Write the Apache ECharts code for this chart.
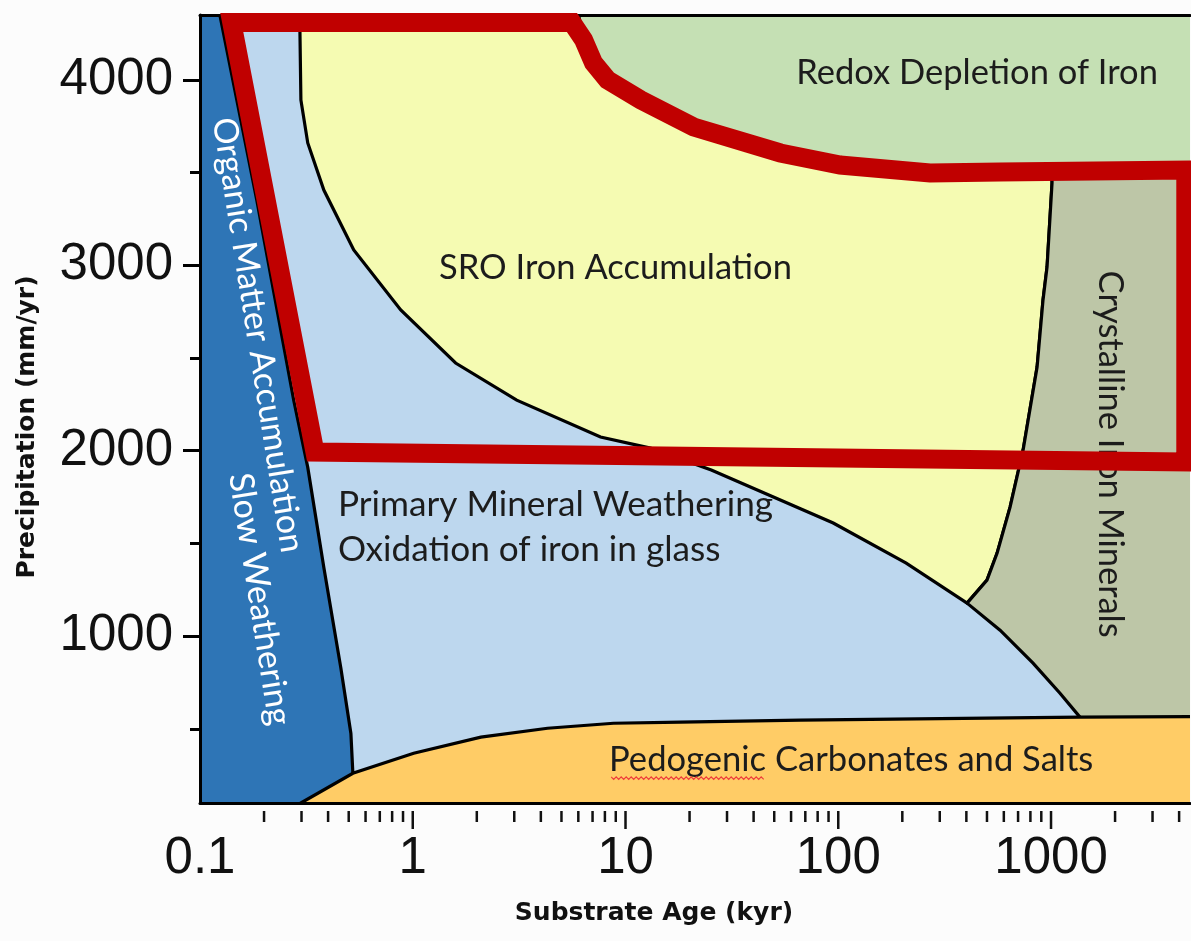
<!DOCTYPE html>
<html>
<head>
<meta charset="utf-8">
<script src="https://cdn.jsdelivr.net/npm/echarts@6/dist/echarts.min.js"></script>
<style>
  html, body { margin: 0; padding: 0; background: #fcfcfc; }
  #chart { width: 1191px; height: 941px; }
</style>
</head>
<body>
<div id="chart"></div>
<script>
// ---------- axis ranges & ticks ----------
const X_MIN = 0.1, X_MAX = 4500;
const Y_MIN = 100, Y_MAX = 4350;
const xTickLabels = ['0.1', '1', '10', '100', '1000'];
const xMajorTicks = [1, 10, 100, 1000];
const xMinorTicks = [0.2, 0.3, 0.4, 0.5, 0.6, 0.7, 0.8, 0.9,
                     2, 3, 4, 5, 6, 7, 8, 9,
                     20, 30, 40, 50, 60, 70, 80, 90,
                     200, 300, 400, 500, 600, 700, 800, 900,
                     2000, 3000, 4000];
const yTickLabels = [1000, 2000, 3000, 4000];
const yMinorTicks = [500, 1500, 2500, 3500];

// ---------- region boundaries (substrate age kyr, precipitation mm/yr) ----------
// organic matter strip / primary weathering boundary (top -> bottom)
const organicEdge = [[0.124, 4350], [0.185, 3350], [0.276, 2270], [0.321, 1910],
                     [0.382, 1370], [0.459, 830], [0.512, 475], [0.523, 260]];
// top of pedogenic carbonates (left -> right)
const carbonateTop = [[0.298, 100], [0.523, 260], [1.01, 368], [2.09, 455], [4.30, 503],
                      [8.78, 530], [18.1, 536], [66.3, 547], [1368, 563], [4500, 573]];
// SRO accumulation lower/left boundary (top -> junction)
const sroLowerEdge = [[0.295, 4350], [0.295, 4253], [0.298, 3892], [0.321, 3660], [0.382, 3406],
                      [0.528, 3083], [0.878, 2759], [1.59, 2473], [3.08, 2273], [7.63, 2074],
                      [13.1, 2014], [25.3, 1896], [94.7, 1610], [208.6, 1394], [403, 1178]];
// SRO / crystalline boundary (junction -> top)
const crystallineEdge = [[403, 1178], [500, 1302], [558, 1448], [642, 1696], [739, 2003],
                         [860, 2451], [917, 2813], [958, 2991], [1011, 3444]];
// primary weathering / crystalline boundary (junction -> carbonates)
const weatheringEdge = [[403, 1178], [576, 1032], [823, 854], [1102, 692], [1368, 563]];
// redox depletion lower boundary (left -> right)
const redoxEdge = [[6.02, 4350], [6.35, 4216], [7.07, 4092], [8.23, 4000], [11.8, 3892],
                   [20.9, 3746], [53.4, 3606], [102, 3541], [270, 3498], [576, 3503], [4500, 3525]];
// highlighted domain (red outline)
const redOutline = [[0.141, 4310], [5.6, 4310], [6.35, 4216], [7.07, 4092], [8.23, 4000],
                    [11.8, 3892], [20.9, 3746], [53.4, 3606], [102, 3541], [270, 3498],
                    [576, 3503], [4300, 3514], [4300, 1939], [0.347, 1993]];

const regionNames = ['Redox Depletion of Iron', 'SRO Iron Accumulation',
  'Primary Mineral Weathering\nOxidation of iron in glass', 'Pedogenic Carbonates and Salts',
  'Crystalline Iron Minerals', 'Organic Matter Accumulation', 'Slow Weathering'];

// ---------- build polygons ----------
const FAR_L = 0.01, FAR_R = 100000, FAR_B = 0, FAR_T = 10000;
const polyLightBlue = [[FAR_L, FAR_B], [FAR_R, FAR_B], [FAR_R, FAR_T], [FAR_L, FAR_T]];
const polyYellow = [[0.295, FAR_T]].concat(sroLowerEdge, crystallineEdge.slice(1), [[1011, FAR_T]]);
const polyCrystal = weatheringEdge.concat([[1368, FAR_B], [FAR_R, FAR_B], [FAR_R, FAR_T], [1011, FAR_T]],
                                          crystallineEdge.slice().reverse().slice(0, -1));
const polyGreen = [[6.02, FAR_T]].concat(redoxEdge.slice(0, -1), [[FAR_R, 3530], [FAR_R, FAR_T]]);
const polyOrange = carbonateTop.slice(0, -1).concat([[FAR_R, 575], [FAR_R, FAR_B], [0.298, FAR_B]]);
const polyDark = [[FAR_L, FAR_T], [0.124, FAR_T]].concat(organicEdge, [[0.6, FAR_B], [FAR_L, FAR_B]]);

function polySeries(name, pts, fill, stroke, lw, z, clip) {
  return {
    type: 'custom', name: name, coordinateSystem: 'cartesian2d', clip: clip, z: z,
    silent: true, data: pts,
    renderItem: function (params, api) {
      if (params.dataIndex !== 0) return;
      const points = pts.map(function (p) { return api.coord(p); });
      return {
        type: 'polygon', shape: { points: points },
        style: { fill: fill, stroke: stroke, lineWidth: lw, lineJoin: 'miter' }
      };
    }
  };
}

function tickSeries(values, len) {
  return {
    type: 'custom', coordinateSystem: 'cartesian2d', clip: false, z: 4, silent: true,
    data: values.map(function (v) { return [v, Y_MIN]; }),
    renderItem: function (params, api) {
      const p = api.coord([api.value(0), Y_MIN]);
      return { type: 'line', shape: { x1: p[0], y1: p[1] + 8, x2: p[0], y2: p[1] + 8 + len },
               style: { stroke: '#111', lineWidth: 2.5 } };
    }
  };
}

const LABEL_FONT = 'Lato';
const labelSpec = [
  { at: [449, 4038], rot: 0, color: '#1c1c1c', align: 'center', size: 34.5 },
  { at: [8.97, 2985], rot: 0, color: '#1c1c1c', align: 'center', size: 34.5 },
  { at: [0.445, 1588], rot: 0, color: '#1c1c1c', align: 'left', size: 35.2 },
  { at: [115, 331], rot: 0, color: '#1c1c1c', align: 'center', size: 34.6 },
  { at: [1892, 1982], rot: -90, color: '#1c1c1c', align: 'center', size: 34.5 },
  { at: [0.187, 2624], rot: -81, color: '#ffffff', align: 'center', size: 34 },
  { at: [0.191, 1199], rot: -81, color: '#ffffff', align: 'center', size: 34 }
];

function squiggle(x0, x1, y) {
  const pts = [];
  let up = true;
  for (let x = x0; x <= x1; x += 2.5) { pts.push([x, y + (up ? -1.3 : 1.3)]); up = !up; }
  return pts;
}

const labelSeries = {
  type: 'custom', coordinateSystem: 'cartesian2d', clip: false, z: 6, silent: true,
  data: regionNames.map(function (n, i) { return [labelSpec[i].at[0], labelSpec[i].at[1], i]; }),
  renderItem: function (params, api) {
    const i = params.dataIndex;
    const s = labelSpec[i];
    const p = api.coord([api.value(0), api.value(1)]);
    const txt = {
      type: 'text', x: p[0], y: p[1], rotation: s.rot * Math.PI / 180,
      style: { text: regionNames[i], fill: s.color, fontFamily: LABEL_FONT, fontSize: s.size,
               align: s.align, verticalAlign: 'middle', lineHeight: 45 }
    };
    if (i !== 3) return txt;
    // spell-check underline under the first word, as in the source figure
    return {
      type: 'group', children: [txt, {
        type: 'polyline', shape: { points: squiggle(p[0] - 240, p[0] - 86, p[1] + 18) },
        style: { stroke: '#ee3b3b', lineWidth: 1.1, fill: 'none' }
      }]
    };
  }
};

const tickFont = { fontFamily: 'Liberation Sans', fontSize: 51, color: '#111' };

const option = {
  backgroundColor: '#fcfcfc',
  animation: false,
  grid: { left: 200, top: 15, right: 1, bottom: 138, containLabel: false },
  xAxis: [
    {
      type: 'log', logBase: 10, min: X_MIN, max: X_MAX, position: 'bottom', z: 5,
      axisLine: { show: true, onZero: false, lineStyle: { color: '#000', width: 3 } },
      axisTick: { show: false }, minorTick: { show: false }, splitLine: { show: false },
      axisLabel: Object.assign({ margin: 30, showMaxLabel: false,
        formatter: function (v) {
          const l = Math.log10(v), e = Math.round(l);
          return (Math.abs(l - e) < 1e-6 && e >= -1 && e <= 3) ? xTickLabels[e + 1] : '';
        } }, tickFont),
      name: 'Substrate Age (kyr)', nameLocation: 'middle', nameGap: 98,
      nameTextStyle: { fontFamily: 'DejaVu Sans', fontWeight: 'bold', fontSize: 25, color: '#111',
                       padding: [0, 82, 0, 0] }
    },
    {
      type: 'log', logBase: 10, min: X_MIN, max: X_MAX, position: 'top', z: 5,
      axisLine: { show: true, lineStyle: { color: '#000', width: 3 } },
      axisTick: { show: false }, axisLabel: { show: false }, splitLine: { show: false }
    }
  ],
  yAxis: [
    {
      type: 'value', min: Y_MIN, max: Y_MAX, position: 'left', z: 5,
      axisLine: { show: true, onZero: false, lineStyle: { color: '#000', width: 3 } },
      axisTick: { show: true, length: 17, customValues: yTickLabels, lineStyle: { color: '#000', width: 3 } },
      axisLabel: Object.assign({ margin: 27, customValues: yTickLabels,
        formatter: function (v) { return String(Math.round(v)); } }, tickFont),
      splitLine: { show: false },
      name: 'Precipitation (mm/yr)', nameLocation: 'middle', nameRotate: 90, nameGap: 160,
      nameTextStyle: { fontFamily: 'DejaVu Sans', fontWeight: 'bold', fontSize: 25, color: '#111',
                       padding: [0, 36, 0, 0] }
    },
    {
      type: 'value', min: Y_MIN, max: Y_MAX, position: 'left', z: 5,
      axisLine: { show: false },
      axisTick: { show: true, length: 10, customValues: yMinorTicks, lineStyle: { color: '#000', width: 3 } },
      axisLabel: { show: false }, splitLine: { show: false }
    }
  ],
  series: [
    polySeries('Primary Mineral Weathering', polyLightBlue, '#BDD7EE', 'none', 0, 1, true),
    polySeries('SRO Iron Accumulation', polyYellow, '#F5FBB2', '#000', 3.2, 1, true),
    polySeries('Crystalline Iron Minerals', polyCrystal, '#BDC6A7', '#000', 3.2, 1, true),
    polySeries('Redox Depletion of Iron', polyGreen, '#C5E0B4', '#000', 3.2, 1, true),
    polySeries('Organic Matter Accumulation', polyDark, '#2E75B6', '#000', 3.2, 1, true),
    polySeries('Pedogenic Carbonates and Salts', polyOrange, '#FFCC66', '#000', 3.2, 1, true),
    polySeries('Highlighted domain', redOutline, 'none', '#C00000', 19, 7, false),
    tickSeries(xMinorTicks, 11),
    tickSeries(xMajorTicks, 18),
    labelSeries
  ]
};

const chart = echarts.init(document.getElementById('chart'), null, { renderer: 'canvas' });
chart.setOption(option);
</script>
</body>
</html>
